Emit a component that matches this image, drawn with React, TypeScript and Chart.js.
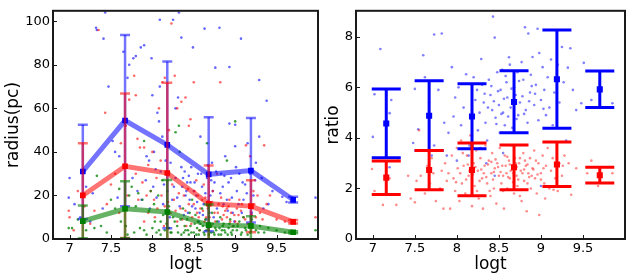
import React, { useEffect, useRef } from 'react';
import { Chart, registerables } from 'chart.js';

Chart.register(...registerables);

// ---------- data ----------
const xCenters = [7.16, 7.67, 8.18, 8.68, 9.19, 9.7];
const xTicks = [7, 7.5, 8, 8.5, 9, 9.5];
const radiusTicks = [0, 20, 40, 60, 80, 100];
const ratioTicks = [0, 2, 4, 6, 8];

const radiusBlueMean = [31.0, 54.4, 43.2, 29.7, 31.4, 18.0];
const radiusBlueHi = [52.5, 93.7, 81.5, 55.9, 55.6, 19.4];
const radiusBlueLo = [9.2, 15.0, 4.9, 3.6, 7.6, 16.8];

const radiusRedMean = [20.0, 33.4, 30.3, 16.2, 15.1, 7.9];
const radiusRedHi = [44.0, 66.8, 71.7, 33.8, 27.0, 8.7];
const radiusRedLo = [-4, 0.5, -1, -1, 3.1, 7.1];

const radiusGreenMean = [8.2, 13.9, 12.4, 6.4, 6.0, 3.1];
const radiusGreenHi = [15.4, 26.5, 27.1, 15.8, 10.5, 3.6];
const radiusGreenLo = [0.3, 0.3, -1, -1, -1, 2.6];

const ratioBlueMean = [4.57, 4.88, 4.85, 5.42, 6.32, 5.92];
const ratioBlueHi = [5.94, 6.26, 6.14, 6.66, 8.27, 6.65];
const ratioBlueLo = [3.22, 3.5, 3.57, 4.2, 4.38, 5.2];

const ratioRedMean = [2.43, 2.73, 2.73, 2.84, 2.95, 2.52];
const ratioRedHi = [3.09, 3.5, 3.8, 3.72, 3.84, 2.84];
const ratioRedLo = [1.76, 1.95, 1.71, 1.95, 2.08, 2.22];

// individual objects: [logt, value]
const radiusBluePts = [
  [7.0, 28], [6.99, 19], [7.06, 16], [7.13, 10], [7.2, 24], [7.28, 21], [7.32, 97], [7.33, 96], [7.43, 104], [7.41, 92],
  [7.47, 70], [7.52, 45], [7.55, 40], [7.6, 38], [7.65, 86], [7.7, 74], [7.72, 80], [7.77, 83], [7.8, 84], [7.86, 88],
  [7.9, 89], [7.93, 38], [7.96, 36], [7.99, 83], [8.0, 66], [8.02, 40], [8.04, 32], [8.06, 58], [8.08, 54], [8.09, 100.7],
  [8.09, 70], [8.12, 47], [8.14, 25], [8.2, 30], [8.22, 35], [8.25, 100.7], [8.28, 60], [8.31, 65], [8.32, 104], [8.35, 92.5],
  [8.37, 28], [8.4, 20], [8.42, 26], [8.45, 18], [8.47, 33], [8.49, 88], [8.5, 22], [8.52, 14], [8.55, 30], [8.57, 12],
  [8.58, 47], [8.6, 24], [8.63, 96.6], [8.65, 9], [8.7, 20], [8.72, 35], [8.75, 26], [8.76, 78.7], [8.78, 14], [8.81, 97],
  [8.83, 30], [8.85, 24], [8.88, 38], [8.9, 18], [8.93, 53], [8.93, 79], [8.95, 28], [8.97, 12], [9.0, 52.5], [9.0, 42.6],
  [9.02, 22], [9.05, 30], [9.07, 92], [9.1, 18], [9.12, 25], [9.15, 44], [9.2, 12], [9.22, 20], [9.25, 35], [9.29, 73],
  [9.29, 47], [9.32, 28], [9.38, 63.5], [9.4, 16], [9.45, 22], [9.57, 19.4], [9.62, 17], [9.97, 19],
  [8.18, 22], [8.24, 18], [8.28, 28], [8.33, 15], [8.36, 24], [8.39, 31], [8.43, 12], [8.46, 26], [8.53, 20], [8.56, 8],
  [8.62, 16], [8.66, 28], [8.69, 12], [8.73, 22], [8.8, 8], [8.86, 16], [8.92, 26], [8.99, 8], [9.08, 12], [9.18, 30],
  [7.82, 22], [7.87, 18], [7.92, 27], [7.97, 14], [8.01, 24], [8.05, 19], [8.1, 31], [8.13, 16], [8.16, 36], [8.21, 10],
  [8.26, 24], [8.3, 19], [8.35, 33], [8.38, 11], [8.41, 22], [8.44, 29], [8.48, 15], [8.51, 26], [8.54, 17], [8.59, 30],
  [8.61, 11], [8.64, 21], [8.67, 34], [8.71, 27], [8.74, 10], [8.77, 31], [8.82, 21], [8.87, 29], [8.91, 13], [8.96, 19],
  [9.01, 33], [9.04, 16], [9.09, 26], [9.14, 21], [9.24, 27], [9.34, 14], [7.76, 28], [7.58, 19], [7.4, 14], [7.25, 8],
];

const radiusRedPts = [
  [6.99, 13], [7.0, 10], [7.05, 4], [7.1, 22], [7.18, 15], [7.25, 7], [7.35, 96], [7.43, 58], [7.5, 25], [7.55, 30],
  [7.62, 44], [7.68, 52], [7.72, 64], [7.78, 75], [7.8, 66], [7.82, 46], [7.85, 42], [7.9, 42], [7.95, 34], [7.98, 22],
  [8.02, 18], [8.05, 28], [8.08, 60], [8.12, 72], [8.15, 74], [8.2, 50], [8.23, 99], [8.27, 75], [8.3, 60], [8.35, 63],
  [8.4, 65], [8.44, 52], [8.46, 55], [8.5, 72], [8.55, 20], [8.58, 14], [8.62, 25], [8.65, 10], [8.7, 16], [8.73, 22],
  [8.78, 30], [8.82, 72], [8.85, 15], [8.9, 10], [8.93, 18], [8.95, 12], [9.0, 8], [9.02, 14], [9.05, 18], [9.1, 10],
  [9.13, 43], [9.18, 38], [9.22, 22], [9.27, 20], [9.3, 12], [9.35, 43], [9.38, 16], [9.42, 20], [9.5, 9], [9.6, 8],
  [9.97, 10], [8.22, 12], [8.26, 18], [8.3, 8], [8.34, 14], [8.38, 20], [8.41, 6], [8.44, 16], [8.48, 10], [8.51, 22],
  [8.54, 12], [8.57, 4], [8.6, 18], [8.63, 8], [8.67, 14], [8.71, 6], [8.75, 12], [8.8, 16], [8.84, 9], [8.88, 13],
  [8.92, 15], [8.97, 6], [9.04, 11], [9.08, 16], [9.15, 7], [9.25, 10], [7.8, 30], [7.88, 26], [7.95, 12], [8.0, 40],
  [8.1, 36], [8.15, 15],
  [7.83, 18], [7.9, 8], [7.93, 20], [8.03, 10], [8.06, 14], [8.11, 20], [8.14, 6], [8.19, 17], [8.24, 25], [8.28, 13],
  [8.32, 21], [8.36, 9], [8.4, 13], [8.43, 23], [8.47, 7], [8.5, 16], [8.53, 27], [8.56, 10], [8.61, 13], [8.64, 19],
  [8.69, 10], [8.72, 17], [8.76, 8], [8.79, 12], [8.83, 19], [8.86, 11], [8.9, 14], [8.94, 8], [8.99, 11], [9.03, 7],
  [9.07, 13], [9.12, 9], [9.2, 11], [9.23, 16], [9.33, 9], [7.6, 12], [7.7, 20], [7.45, 16], [7.3, 13], [7.15, 9],
];

const radiusGreenPts = [
  [6.99, 5], [7.03, 5], [7.1, 9], [7.2, 4], [7.3, 5], [7.33, 29], [7.38, 6], [7.45, 3], [7.5, 18], [7.55, 14],
  [7.6, 23], [7.62, 8], [7.68, 6], [7.72, 20], [7.75, 24], [7.78, 3], [7.8, 15], [7.83, 21], [7.85, 5], [7.88, 18],
  [7.9, 45], [7.93, 2], [7.96, 13], [7.98, 22], [8.0, 5], [8.02, 16], [8.05, 3], [8.07, 20], [8.1, 8], [8.12, 27],
  [8.15, 4], [8.2, 15], [8.22, 3], [8.25, 10], [8.28, 49], [8.3, 6], [8.32, 52], [8.33, 40], [8.35, 2], [8.37, 14],
  [8.4, 4], [8.42, 9], [8.44, 2], [8.46, 6], [8.48, 18], [8.5, 3], [8.52, 11], [8.54, 5], [8.56, 2], [8.58, 7],
  [8.6, 14], [8.62, 3], [8.64, 9], [8.66, 44], [8.68, 2], [8.7, 6], [8.72, 12], [8.74, 3], [8.76, 5], [8.78, 8],
  [8.8, 2], [8.82, 10], [8.84, 4], [8.86, 7], [8.88, 3], [8.9, 36], [8.92, 5], [8.94, 9], [8.96, 2], [8.98, 6],
  [9.0, 54], [9.02, 4], [9.05, 8], [9.08, 3], [9.1, 10], [9.12, 5], [9.15, 2], [9.2, 9], [9.25, 4], [9.3, 6],
  [9.35, 3], [9.4, 5], [9.5, 4], [9.6, 3], [9.97, 4], [8.1, 2], [8.2, 5], [8.38, 3], [8.45, 12], [8.55, 8],
  [8.65, 4], [8.75, 2], [8.85, 6], [8.95, 3], [7.7, 2], [7.9, 4], [8.03, 8],
  [8.08, 4], [8.13, 11], [8.17, 7], [8.23, 3], [8.27, 8], [8.31, 3], [8.34, 9], [8.39, 6], [8.43, 4], [8.47, 3],
  [8.51, 7], [8.53, 2], [8.57, 4], [8.61, 6], [8.63, 2], [8.67, 5], [8.71, 3], [8.73, 7], [8.77, 4], [8.81, 5],
  [8.83, 2], [8.87, 4], [8.91, 2], [8.93, 7], [8.97, 4], [9.03, 6], [9.07, 2], [9.13, 4], [9.18, 3], [9.28, 3],
];

const ratioBluePts = [
  [7.0, 4.04], [7.09, 7.52], [7.02, 5.73], [7.2, 4.98], [7.2, 2.84], [7.22, 5.5], [7.54, 4.34], [7.48, 3.8], [7.6, 7.27], [7.5, 5.94],
  [7.62, 6.4], [7.73, 8.09], [7.82, 8.13], [7.94, 6.8], [7.67, 5.4], [7.73, 3.7], [7.96, 4.85], [7.78, 5.9], [7.85, 4.6], [7.9, 4.2],
  [7.88, 3.3], [7.98, 5.6], [8.02, 6.0], [8.05, 4.5], [8.08, 5.2], [8.11, 6.52], [8.14, 3.3], [8.2, 6.4], [8.22, 5.5], [8.24, 5.9],
  [8.25, 4.3], [8.27, 5.0], [8.29, 7.12], [8.3, 6.1], [8.32, 5.4], [8.34, 4.6], [8.36, 3.9], [8.38, 6.3], [8.4, 5.7], [8.42, 5.1],
  [8.43, 8.8], [8.45, 7.97], [8.46, 4.8], [8.48, 6.6], [8.5, 5.3], [8.51, 4.2], [8.52, 5.9], [8.54, 6.7], [8.55, 5.0], [8.57, 4.5],
  [8.59, 6.2], [8.6, 5.6], [8.62, 7.19], [8.63, 6.9], [8.64, 5.2], [8.66, 4.4], [8.68, 6.0], [8.7, 5.7], [8.72, 6.6], [8.73, 4.9],
  [8.75, 5.4], [8.77, 7.0], [8.79, 6.3], [8.81, 8.38], [8.82, 5.1], [8.84, 4.6], [8.85, 8.13], [8.87, 5.8], [8.88, 6.5], [8.9, 7.2],
  [8.92, 5.3], [8.94, 6.1], [8.96, 8.32], [8.97, 4.7], [8.98, 7.36], [9.0, 5.5], [9.0, 2.1], [9.02, 6.8], [9.04, 5.9], [9.06, 4.9],
  [9.08, 6.4], [9.1, 5.2], [9.12, 7.1], [9.14, 4.5], [9.16, 5.8], [9.2, 6.9], [9.22, 5.4], [9.25, 7.6], [9.27, 6.2], [9.3, 3.9],
  [9.32, 6.78], [9.35, 7.55], [9.38, 5.9], [9.42, 5.1], [9.48, 5.37], [9.51, 6.97], [9.6, 5.5], [9.85, 5.37], [8.15, 3.7], [8.35, 3.0],
  [8.45, 2.5], [8.55, 3.4], [7.7, 3.3], [8.0, 3.1], [8.18, 4.1], [8.28, 3.6],
  [8.33, 5.75], [8.37, 5.2], [8.41, 6.05], [8.44, 5.45], [8.47, 4.55], [8.49, 5.85], [8.53, 4.95], [8.56, 5.55], [8.58, 6.45], [8.61, 4.85],
  [8.65, 5.95], [8.67, 5.35], [8.71, 4.75], [8.74, 6.25], [8.78, 5.65], [8.8, 4.95], [8.86, 5.45], [8.89, 6.05], [8.93, 5.75], [9.03, 5.15],
];

const ratioRedPts = [
  [6.99, 2.77], [7.02, 1.9], [7.12, 1.35], [7.2, 2.4], [7.28, 1.35], [7.3, 3.1], [7.42, 2.5], [7.45, 1.6], [7.5, 1.45], [7.52, 2.3],
  [7.55, 4.3], [7.57, 2.5], [7.62, 1.8], [7.65, 2.9], [7.68, 2.2], [7.7, 3.2], [7.72, 2.6], [7.75, 1.5], [7.78, 3.5], [7.8, 2.0],
  [7.82, 2.7], [7.84, 1.2], [7.86, 3.0], [7.88, 2.3], [7.9, 2.6], [7.92, 1.2], [7.94, 3.3], [7.96, 2.4], [7.98, 1.9], [8.0, 3.6],
  [8.01, 2.8], [8.03, 1.5], [8.05, 3.9], [8.06, 2.2], [8.08, 2.9], [8.1, 1.8], [8.12, 3.3], [8.14, 2.5], [8.16, 4.1], [8.18, 1.3],
  [8.2, 3.0], [8.21, 2.1], [8.23, 3.5], [8.25, 2.7], [8.26, 1.6], [8.28, 3.2], [8.3, 2.4], [8.31, 1.2], [8.33, 2.9], [8.34, 3.7],
  [8.36, 2.2], [8.38, 3.1], [8.39, 1.9], [8.41, 2.6], [8.42, 3.4], [8.44, 2.0], [8.45, 2.8], [8.47, 1.4], [8.48, 3.0], [8.5, 2.5],
  [8.51, 3.6], [8.53, 2.2], [8.54, 2.9], [8.56, 1.2], [8.57, 3.3], [8.59, 2.6], [8.6, 2.0], [8.62, 3.1], [8.63, 2.4], [8.65, 3.7],
  [8.66, 2.8], [8.68, 1.8], [8.69, 3.2], [8.71, 2.5], [8.72, 2.1], [8.74, 3.0], [8.76, 2.7], [8.77, 1.5], [8.79, 3.4], [8.8, 2.3],
  [8.82, 2.9], [8.83, 1.1], [8.85, 2.6], [8.87, 3.2], [8.88, 2.0], [8.9, 2.8], [8.92, 3.5], [8.93, 2.4], [8.95, 1.8], [8.97, 3.0],
  [8.98, 0.95], [9.0, 2.6], [9.02, 3.3], [9.04, 2.2], [9.06, 2.9], [9.08, 3.6], [9.1, 2.0], [9.12, 2.7], [9.14, 3.2], [9.17, 2.4],
  [9.2, 1.9], [9.22, 3.0], [9.25, 2.5], [9.28, 3.3], [9.3, 2.1], [9.33, 3.0], [9.36, 1.75], [9.42, 2.8], [9.55, 2.6], [9.6, 3.1],
  [9.85, 2.6], [9.68, 2.1], [8.22, 2.85], [8.27, 2.3], [8.32, 2.6], [8.37, 2.95], [8.43, 2.35], [8.46, 3.15], [8.52, 2.65], [8.58, 2.9],
  [8.61, 2.45], [8.64, 2.7], [8.7, 3.0], [8.73, 2.35], [8.78, 2.6], [8.81, 3.1], [8.86, 2.45], [8.91, 2.75], [8.96, 2.55], [9.03, 2.8],
  [8.15, 2.7], [8.11, 2.35], [8.07, 3.4], [8.24, 1.9], [8.4, 1.7], [8.55, 1.9], [8.67, 2.25], [8.75, 1.7], [8.84, 2.2], [9.05, 1.6],
  [9.15, 1.95], [9.26, 2.9],
  [8.29, 2.75], [8.35, 2.45], [8.41, 3.05], [8.44, 2.65], [8.49, 2.85], [8.55, 2.5], [8.6, 3.25], [8.63, 2.95], [8.67, 2.6], [8.71, 2.85],
  [8.75, 3.2], [8.8, 2.75], [8.84, 2.95], [8.89, 2.5], [8.94, 3.1], [9.0, 2.35], [8.19, 2.55], [8.13, 2.95], [8.04, 2.6], [7.99, 2.25],
];

// ---------- helpers ----------
const FONT = 'DejaVu Sans';
const toXY = (pts: number[][]) => pts.map(([x, y]) => ({ x, y }));
const meanXY = (vals: number[]) => xCenters.map((x, i) => ({ x, y: vals[i] }));

const errorBarPlugin = {
  id: 'errbars',
  beforeDatasetDraw(chart: any, args: any) {
    const ds: any = chart.data.datasets[args.index];
    if (!ds.errHi) return;
    const { ctx, chartArea } = chart;
    const xs = chart.scales.x;
    const ys = chart.scales.y;
    ctx.save();
    ctx.beginPath();
    ctx.rect(chartArea.left, chartArea.top, chartArea.right - chartArea.left, chartArea.bottom - chartArea.top);
    ctx.clip();
    ctx.strokeStyle = ds.errColor;
    ctx.lineCap = 'butt';
    ds.data.forEach((p: any, i: number) => {
      const x = xs.getPixelForValue(p.x);
      const yt = ys.getPixelForValue(ds.errHi[i]);
      const yb = ys.getPixelForValue(ds.errLo[i]);
      ctx.lineWidth = ds.errWidth;
      ctx.beginPath();
      ctx.moveTo(x, yt);
      ctx.lineTo(x, yb);
      ctx.stroke();
      ctx.lineWidth = ds.capThick;
      ctx.beginPath();
      ctx.moveTo(x - ds.capHalf, yt);
      ctx.lineTo(x + ds.capHalf, yt);
      ctx.stroke();
      ctx.beginPath();
      ctx.moveTo(x - ds.capHalf, yb);
      ctx.lineTo(x + ds.capHalf, yb);
      ctx.stroke();
    });
    ctx.restore();
  },
};

const framePlugin = {
  id: 'frame',
  afterDraw(chart: any) {
    const { ctx, chartArea } = chart;
    const { left, top, right, bottom } = chartArea;
    ctx.save();
    ctx.strokeStyle = '#1a1a1a';
    ctx.lineWidth = 1;
    const xs = chart.scales.x;
    const ys = chart.scales.y;
    ctx.beginPath();
    xs.ticks.forEach((t: any) => {
      const x = Math.round(xs.getPixelForValue(t.value)) + 0.5;
      ctx.moveTo(x, bottom);
      ctx.lineTo(x, bottom - 4);
    });
    ys.ticks.forEach((t: any) => {
      const y = Math.round(ys.getPixelForValue(t.value)) + 0.5;
      ctx.moveTo(left, y);
      ctx.lineTo(left + 4, y);
    });
    ctx.stroke();
    ctx.lineWidth = 2;
    ctx.strokeRect(left, top, right - left, bottom - top);
    ctx.restore();
  },
};

function makeScales(opts: {
  yTicks: number[]; yMax: number; yTitle: string; yWidth: number; yTitlePad: number;
}) {
  return {
    x: {
      type: 'linear',
      min: 6.8,
      max: 10.0,
      grid: { display: false, drawTicks: false },
      border: { display: false },
      afterBuildTicks: (s: any) => { s.ticks = xTicks.map((v) => ({ value: v })); },
      afterFit: (s: any) => { s.height = 41; },
      ticks: { font: { family: FONT, size: 13 }, color: '#000', padding: 2, maxRotation: 0, autoSkip: false, callback: (v: any) => String(v) },
      title: { display: true, text: 'logt', font: { family: FONT, size: 17 }, color: '#000', padding: { top: 0, bottom: 5 } },
    },
    y: {
      type: 'linear',
      min: 0,
      max: opts.yMax,
      grid: { display: false, drawTicks: false },
      border: { display: false },
      afterBuildTicks: (s: any) => { s.ticks = opts.yTicks.map((v) => ({ value: v })); },
      afterFit: (s: any) => { s.width = opts.yWidth; },
      ticks: { font: { family: FONT, size: 13 }, color: '#000', padding: 3, autoSkip: false, callback: (v: any) => String(v) },
      title: { display: true, text: opts.yTitle, font: { family: FONT, size: 17 }, color: '#000', padding: { top: opts.yTitlePad, bottom: 0 } },
    },
  };
}

function meanLine(vals: number[], hi: number[], lo: number[], solid: string, faint: string) {
  return {
    type: 'line',
    data: meanXY(vals),
    borderColor: faint,
    borderWidth: 5,
    tension: 0,
    pointStyle: 'rect',
    pointRadius: 4,
    pointBackgroundColor: solid,
    pointBorderWidth: 0,
    errHi: hi,
    errLo: lo,
    errColor: faint,
    errWidth: 2.5,
    capThick: 2.5,
    capHalf: 5,
  };
}

function meanPoints(vals: number[], hi: number[], lo: number[], solid: string) {
  return {
    type: 'scatter',
    data: meanXY(vals),
    showLine: false,
    pointStyle: 'rect',
    pointRadius: 4.3,
    pointBackgroundColor: solid,
    pointBorderWidth: 0,
    errHi: hi,
    errLo: lo,
    errColor: solid,
    errWidth: 3,
    capThick: 3,
    capHalf: 14.5,
  };
}

function scatterSet(pts: number[][], color: string) {
  return {
    type: 'scatter',
    data: toXY(pts),
    pointRadius: 1.3,
    pointBackgroundColor: color,
    pointBorderWidth: 0,
    showLine: false,
  };
}

export default function App() {
  const leftRef = useRef<HTMLCanvasElement>(null);
  const rightRef = useRef<HTMLCanvasElement>(null);

  useEffect(() => {
    document.body.style.margin = '0';
    const common = {
      animation: false,
      responsive: false,
      events: [],
      plugins: { legend: { display: false }, tooltip: { enabled: false } },
    };

    const left = new Chart(leftRef.current as HTMLCanvasElement, {
      type: 'scatter',
      data: {
        datasets: [
          meanLine(radiusGreenMean, radiusGreenHi, radiusGreenLo, '#008000', 'rgba(0,128,0,0.6)'),
          meanLine(radiusRedMean, radiusRedHi, radiusRedLo, '#ff0000', 'rgba(255,0,0,0.55)'),
          meanLine(radiusBlueMean, radiusBlueHi, radiusBlueLo, '#0000ff', 'rgba(0,0,255,0.55)'),
          scatterSet(radiusGreenPts, 'rgba(0,128,0,0.75)'),
          scatterSet(radiusRedPts, 'rgba(255,0,0,0.6)'),
          scatterSet(radiusBluePts, 'rgba(0,0,255,0.6)'),
        ] as any,
      },
      options: {
        ...common,
        layout: { padding: { top: 5, right: 1, left: 0, bottom: 0 } },
        scales: makeScales({ yTicks: radiusTicks, yMax: 104.8, yTitle: 'radius(pc)', yWidth: 53, yTitlePad: 3 }) as any,
      } as any,
      plugins: [errorBarPlugin, framePlugin],
    });

    const right = new Chart(rightRef.current as HTMLCanvasElement, {
      type: 'scatter',
      data: {
        datasets: [
          meanPoints(ratioRedMean, ratioRedHi, ratioRedLo, '#ff0000'),
          meanPoints(ratioBlueMean, ratioBlueHi, ratioBlueLo, '#0000ff'),
          scatterSet(ratioRedPts, 'rgba(255,0,0,0.45)'),
          scatterSet(ratioBluePts, 'rgba(0,0,255,0.5)'),
        ] as any,
      },
      options: {
        ...common,
        layout: { padding: { top: 5, right: 5, left: 0, bottom: 0 } },
        scales: makeScales({ yTicks: ratioTicks, yMax: 9.03, yTitle: 'ratio', yWidth: 34, yTitlePad: 1 }) as any,
      } as any,
      plugins: [errorBarPlugin, framePlugin],
    });

    return () => {
      left.destroy();
      right.destroy();
    };
  }, []);

  return (
    <div style={{ position: 'absolute', left: 0, top: 0, width: 630, height: 280, background: '#fff' }}>
      <canvas ref={leftRef} width={322} height={280} style={{ position: 'absolute', left: 0, top: 0, width: 322, height: 280 }} />
      <canvas ref={rightRef} width={308} height={280} style={{ position: 'absolute', left: 322, top: 0, width: 308, height: 280 }} />
    </div>
  );
}
